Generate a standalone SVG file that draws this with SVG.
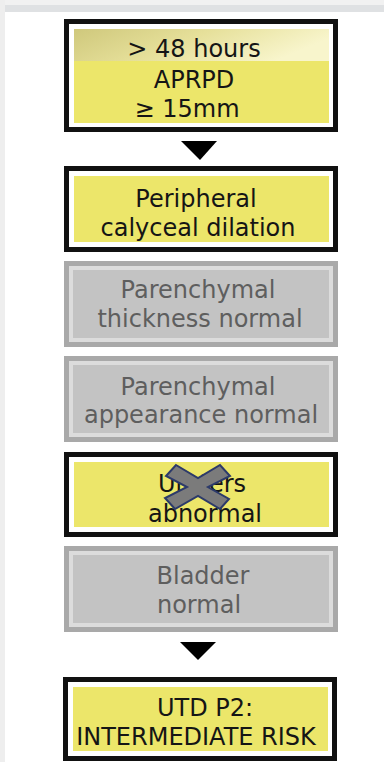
<svg xmlns="http://www.w3.org/2000/svg" width="384" height="762" viewBox="0 0 384 762">
<style>
.blk{fill:#ffffff;stroke:#111111;stroke-width:5}
.yel{fill:#ece66a}
.gry{fill:#dcdcdc;stroke:#a9a9a9;stroke-width:5}
.gin{fill:#c3c3c3}
text{font-family:"DejaVu Sans","Liberation Sans",sans-serif;font-size:24px;text-anchor:middle}
.dt{fill:#151515}
.lt{fill:#5e5e5e}
.arr{fill:#000000}
</style>
<defs>
<linearGradient id="gloss" x1="0" y1="0" x2="1" y2="0.3">
<stop offset="0" stop-color="#cfc87c"/>
<stop offset="0.5" stop-color="#e6e09a"/>
<stop offset="1" stop-color="#f8f5cc"/>
</linearGradient>
</defs>
<rect x="0" y="0" width="384" height="762" fill="#ffffff"/>
<rect x="0" y="0" width="384" height="5" fill="#f1f1f1"/>
<rect x="0" y="5" width="384" height="7" fill="#dfe1e3"/>
<rect x="0" y="0" width="5" height="762" fill="#eeeeee"/>

<g id="connectors">
<polygon class="arr" points="181,141 217,141 200,160"/>
<polygon class="arr" points="180,642 216,642 198,660"/>
</g>

<g id="node1">
<rect class="blk" x="66.5" y="21.5" width="269" height="108"/>
<rect class="yel" x="74" y="29" width="255" height="94"/>
<rect x="74" y="29" width="255" height="32" fill="url(#gloss)"/>
<text class="dt" x="194" y="57">&gt; 48 hours</text>
<text class="dt" x="194" y="88">APRPD</text>
<text class="dt" x="187" y="117">≥ 15mm</text>
</g>

<g id="node2">
<rect class="blk" x="66.5" y="168.5" width="269" height="81"/>
<rect class="yel" x="74" y="176" width="255" height="66"/>
<text class="dt" x="196" y="207">Peripheral</text>
<text class="dt" x="198" y="236">calyceal dilation</text>
</g>

<g id="node3">
<rect class="gry" x="66.5" y="263.5" width="269" height="81"/>
<rect class="gin" x="73" y="270" width="256" height="68"/>
<text class="lt" x="198" y="298">Parenchymal</text>
<text class="lt" x="200" y="327">thickness normal</text>
</g>

<g id="node4">
<rect class="gry" x="66.5" y="358.5" width="269" height="81"/>
<rect class="gin" x="73" y="365" width="256" height="68"/>
<text class="lt" x="198" y="395">Parenchymal</text>
<text class="lt" x="201" y="423">appearance normal</text>
</g>

<g id="node5">
<rect class="blk" x="66.5" y="454.5" width="269" height="80"/>
<rect class="yel" x="74" y="462" width="255" height="65"/>
<text class="dt" x="202" y="492">Ureters</text>
<text class="dt" x="205" y="522">abnormal</text>
<polygon points="176,465 198,478 220,465 230,476 208,487 229,499 220,509 198,496 175,509 165,498 187,487 166,476" fill="#7b7b7b" stroke="#2c3a6a" stroke-width="2" stroke-linejoin="miter"/>
</g>

<g id="node6">
<rect class="gry" x="66.5" y="548.5" width="269" height="81"/>
<rect class="gin" x="73" y="555" width="256" height="68"/>
<text class="lt" x="203" y="584">Bladder</text>
<text class="lt" x="199" y="613">normal</text>
</g>

<g id="node7">
<rect class="blk" x="65.5" y="679.5" width="269" height="79"/>
<rect class="yel" x="73" y="687" width="255" height="64"/>
<text class="dt" x="205" y="716">UTD P2:</text>
<text class="dt" x="196" y="745">INTERMEDIATE RISK</text>
</g>
</svg>
